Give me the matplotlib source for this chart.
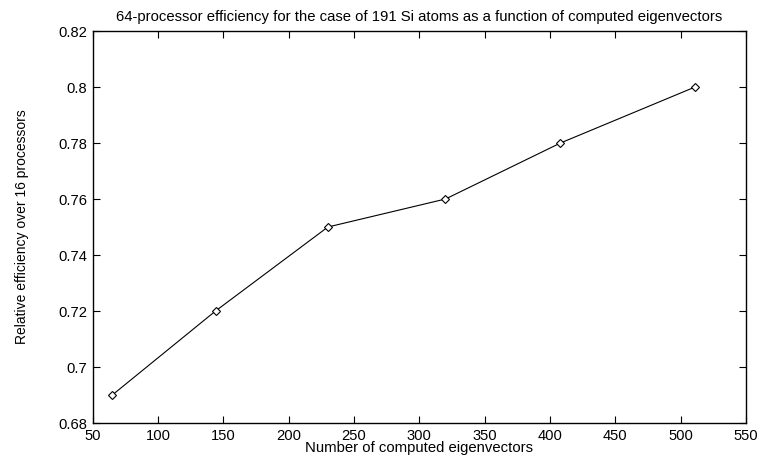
import matplotlib
matplotlib.use('Agg')
import matplotlib.pyplot as plt

plt.rcParams['font.family'] = ['Liberation Sans', 'DejaVu Sans']

eigenvectors = [65, 144, 230, 320, 408, 511]
efficiency = [0.69, 0.72, 0.75, 0.76, 0.78, 0.80]

x_ticks = [50, 100, 150, 200, 250, 300, 350, 400, 450, 500, 550]
y_ticks = [0.68, 0.7, 0.72, 0.74, 0.76, 0.78, 0.8, 0.82]
y_labels = ['0.68', '0.7', '0.72', '0.74', '0.76', '0.78', '0.8', '0.82']

fig = plt.figure(figsize=(7.61, 4.58), dpi=100)
ax = fig.add_axes([0.1218, 0.0764, 0.8585, 0.8559])

ax.plot(eigenvectors, efficiency, '-', color='black', linewidth=0.8,
        marker='D', markersize=4, markerfacecolor='white', markeredgecolor='black',
        markeredgewidth=0.8)

ax.set_xlim(50, 550)
ax.set_ylim(0.68, 0.82)
ax.set_xticks(x_ticks)
ax.set_yticks(y_ticks)
ax.set_yticklabels(y_labels)
ax.tick_params(direction='in', top=True, right=True, length=5, width=0.8,
               labelsize=10.6, pad=4)
for s in ax.spines.values():
    s.set_linewidth(1.0)

ax.set_xlabel('Number of computed eigenvectors', fontsize=10.7, labelpad=-1)
ax.set_ylabel('Relative efficiency over 16 processors', fontsize=10, labelpad=21)
ax.set_title('64-processor efficiency for the case of 191 Si atoms as a function of computed eigenvectors',
             fontsize=10.7, pad=7)

fig.savefig('out.png', dpi=100)
